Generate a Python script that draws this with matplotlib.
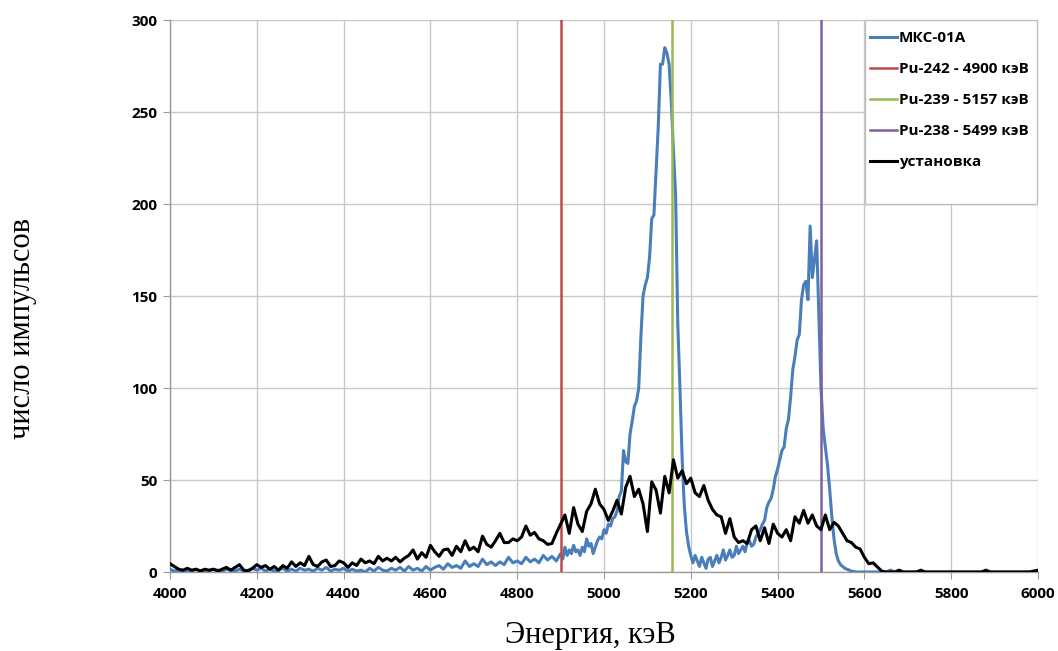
import numpy as np
import matplotlib
matplotlib.use("Agg")
import matplotlib.pyplot as plt
from matplotlib.patches import Rectangle

# --------------------------------------------------------------------------- #
# данные
# --------------------------------------------------------------------------- #
# установка: шаг 10 кэВ, 4000..6000
ust_energy = np.arange(4000, 6001, 10)
ust_counts = [
    4.5, 3, 1.5, 1, 2, 1, 1.5, 0.5, 1.5, 1,
    1.5, 0.5, 1.5, 2.5, 1, 2.5, 4, 1, 0.5, 2,
    4, 2.5, 3.5, 1.5, 3, 1, 3.5, 2, 5.5, 3,
    5, 3.5, 8.5, 4, 3, 5.5, 6.5, 3, 3.5, 6,
    5, 2.5, 5, 3.5, 7, 5, 6, 4.5, 8.5, 6,
    7.5, 6, 8, 5.5, 7.5, 9, 12, 7, 10.5, 8,
    14.5, 11, 8.5, 12, 12.5, 9, 14, 11, 17, 12,
    13.5, 11, 19.5, 15, 13.5, 17, 21, 16, 16, 18,
    17, 19, 25, 20, 21.5, 18, 17, 15, 15.5, 21,
    26, 31, 21, 35, 26, 22, 33, 37, 45, 37,
    34, 28, 33, 39, 31.5, 46, 52, 41, 45, 37,
    22, 49, 44.5, 32, 52, 43, 61, 51, 55, 48,
    51, 43, 41, 47, 39, 34, 31, 30, 21, 29,
    19, 16, 17, 15.5, 23, 25, 17, 24, 15.5, 26,
    21, 19, 23, 17, 30, 26.5, 33.5, 26.5, 31, 25,
    23, 31, 23, 27, 25, 21, 17, 16, 13.5, 12.5,
    8, 4.5, 5, 2.7, 0.5, 0, 0, 0, 1, 0,
    0, 0, 0, 1, 0, 0, 0, 0, 0, 0,
    0, 0, 0, 0, 0, 0, 0, 0, 1, 0,
    0, 0, 0, 0, 0, 0, 0, 0, 0, 0.5,
    1,
]

# МКС-01А: шаг 10 кэВ на краях, 5 кэВ в области пиков
mks_energy = np.concatenate([np.arange(4000, 4900, 10),
                             np.arange(4900, 5601, 5),
                             np.arange(5610, 6001, 10)])
mks_counts = [
    # 4000..4890
    1.5, 0.5, 1, 0.5, 1, 0.5, 1.5, 0.5, 1, 0.5,
    1.5, 1, 0.5, 1.5, 1, 0.5, 1.5, 0.5, 1, 2,
    1, 2, 0.5, 1.5, 0.5, 1, 2, 0.5, 1.5, 0.5,
    2, 1, 1.5, 0.5, 2, 1, 2.5, 0.5, 1.5, 1,
    2, 0.5, 1.5, 0.5, 1, 0, 2, 0.5, 2.5, 1,
    0.5, 2, 1, 2.5, 0.5, 3, 1, 2, 0.5, 3,
    1, 2.5, 3.5, 1.5, 4.5, 2.5, 3.5, 2, 6, 3,
    4.5, 3, 7, 4, 5.5, 3.5, 5.5, 4, 8, 5,
    6, 4.5, 8, 5.5, 7, 5, 9, 6.5, 8.5, 6,
    # 4900..5600, шаг 5
    10, 7, 13.5, 9, 12, 10, 14.5, 11, 12, 9,
    13.5, 11, 18, 14, 15.5, 10, 13.5, 17, 19, 18,
    23, 21, 26, 25, 29, 30, 33, 41, 44, 66,
    60, 59, 75, 82, 90, 93, 100, 128, 150, 156,
    160, 171, 192, 194, 218, 242, 276, 276, 285, 282,
    276, 256, 229, 205, 135, 100, 62, 36, 22, 14,
    9, 5, 9, 6, 3, 8, 5, 2, 7, 8,
    3, 6, 9, 5, 8, 12, 6.5, 9, 12, 8,
    9, 14, 10, 12, 14, 11, 16, 17, 14, 15,
    19, 21, 23, 26, 28, 35, 38, 40, 45, 52,
    56, 61, 66, 68, 78, 83, 95, 110, 117, 126,
    129, 148, 156, 158, 148, 188, 160, 170, 180, 139,
    100, 78, 68, 58, 45, 30, 18, 10, 6, 4,
    3, 2, 1.5, 1, 0.5, 0.3, 0, 0, 0, 0,
    0,
    # 5610..6000
    0, 0, 0, 0, 0, 1, 0, 0, 0, 0,
    0, 0, 0, 0, 0, 0, 0, 0, 0, 0,
    0, 0, 0, 0, 0, 0, 0, 0, 0, 0,
    0, 0, 0, 0, 0, 0, 0, 0, 0, 0,
]

# линии изотопов
iso_labels = ["Pu-242 - 4900 кэВ", "Pu-239 - 5157 кэВ", "Pu-238 - 5499 кэВ"]
iso_energy = [4900, 5157, 5499]
iso_colors = ["#BE4B48", "#98B954", "#7D60A0"]

x_ticks = list(range(4000, 6001, 200))
y_ticks = list(range(0, 301, 50))

# --------------------------------------------------------------------------- #
W, H = 1058, 651
plt.rcParams["font.family"] = ["Open Sans", "DejaVu Sans"]

fig = plt.figure(figsize=(W / 100, H / 100), dpi=100)
ax = fig.add_axes([170 / W, 79 / H, 868 / W, 552 / H])

ax.plot(mks_energy, mks_counts, color="#4A7EBB", lw=2.2, label="МКС-01А",
        solid_joinstyle="round", zorder=3)
for lab, e, c in zip(iso_labels, iso_energy, iso_colors):
    ax.plot([e, e], [y_ticks[0], y_ticks[-1]], color=c, lw=1.8, label=lab, zorder=4)
ax.plot(ust_energy, ust_counts, color="black", lw=2.2, label="установка",
        solid_joinstyle="round", zorder=5)

ax.set_xlim(x_ticks[0], x_ticks[-1])
ax.set_ylim(y_ticks[0], y_ticks[-1])
ax.set_xticks(x_ticks)
ax.set_yticks(y_ticks)
ax.grid(True, color="#C8C8C8", lw=1.0, zorder=0)
ax.set_axisbelow(True)
for s in ("top", "right"):
    ax.spines[s].set_visible(False)
for s in ("left", "bottom"):
    ax.spines[s].set_color("#9A9A9A")
    ax.spines[s].set_linewidth(1.0)
ax.tick_params(length=5, color="#9A9A9A", labelsize=11, pad=4)
for t in ax.get_xticklabels() + ax.get_yticklabels():
    t.set_fontweight("bold")
ax.tick_params(axis="x", pad=6)

# рамка легенды
ax.add_patch(Rectangle((695 / 868, 368 / 552), 172 / 868, 184 / 552,
                       transform=ax.transAxes, facecolor="white",
                       edgecolor="#BFBFBF", lw=1.0, zorder=6, clip_on=False))
leg = ax.legend(loc="upper left", bbox_to_anchor=(870 / W, 1 - 31 / H),
                bbox_transform=fig.transFigure, frameon=False,
                prop={"weight": "bold", "size": 11}, borderpad=0,
                borderaxespad=0, handlelength=1.75, handletextpad=0.15,
                labelspacing=1.12)
leg.set_zorder(7)

fig.text(590 / W, 1 - 635 / H, "Энергия, кэВ", family="Liberation Serif",
         fontsize=22, ha="center", va="center")
fig.text(23 / W, 1 - 328 / H, "число импульсов", family="Liberation Serif",
         fontsize=22, ha="center", va="center", rotation=90)

fig.savefig("out.png", dpi=100)
